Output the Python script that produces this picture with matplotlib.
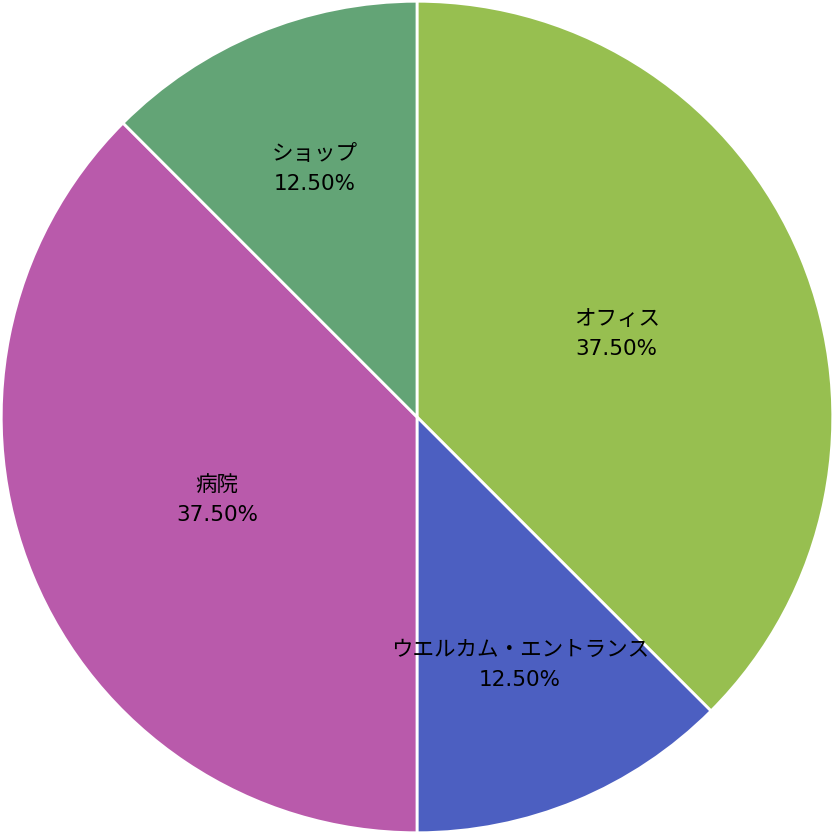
import numpy as np
import matplotlib.pyplot as plt

plt.rcParams['font.family'] = ['DejaVu Sans', 'Noto Sans CJK JP']

labels = ["オフィス", "ウエルカム・エントランス", "病院", "ショップ"]
shares = [37.5, 12.5, 37.5, 12.5]
colors = ["#97bf50", "#4c5fc1", "#b95aab", "#63a476"]

fig = plt.figure(figsize=(8.34, 8.34), dpi=100)
ax = fig.add_axes([0, 0, 1, 1])
wedges, _ = ax.pie(shares, colors=colors, startangle=90, counterclock=False,
                   radius=1.0, wedgeprops=dict(edgecolor="white", linewidth=2))

total = sum(shares)
for w, lab, val in zip(wedges, labels, shares):
    mid = np.deg2rad((w.theta1 + w.theta2) / 2)
    r = 0.52 if val / total > 0.2 else 0.645
    ax.text(r * np.cos(mid), r * np.sin(mid), f"{lab}\n{val:.2f}%",
            ha="center", va="center", fontsize=15.5, linespacing=1.6)

ax.set_xlim(-1.003, 1.003)
ax.set_ylim(-1.003, 1.003)
ax.set_aspect("equal")
ax.axis("off")
fig.savefig("out.png", dpi=100)
